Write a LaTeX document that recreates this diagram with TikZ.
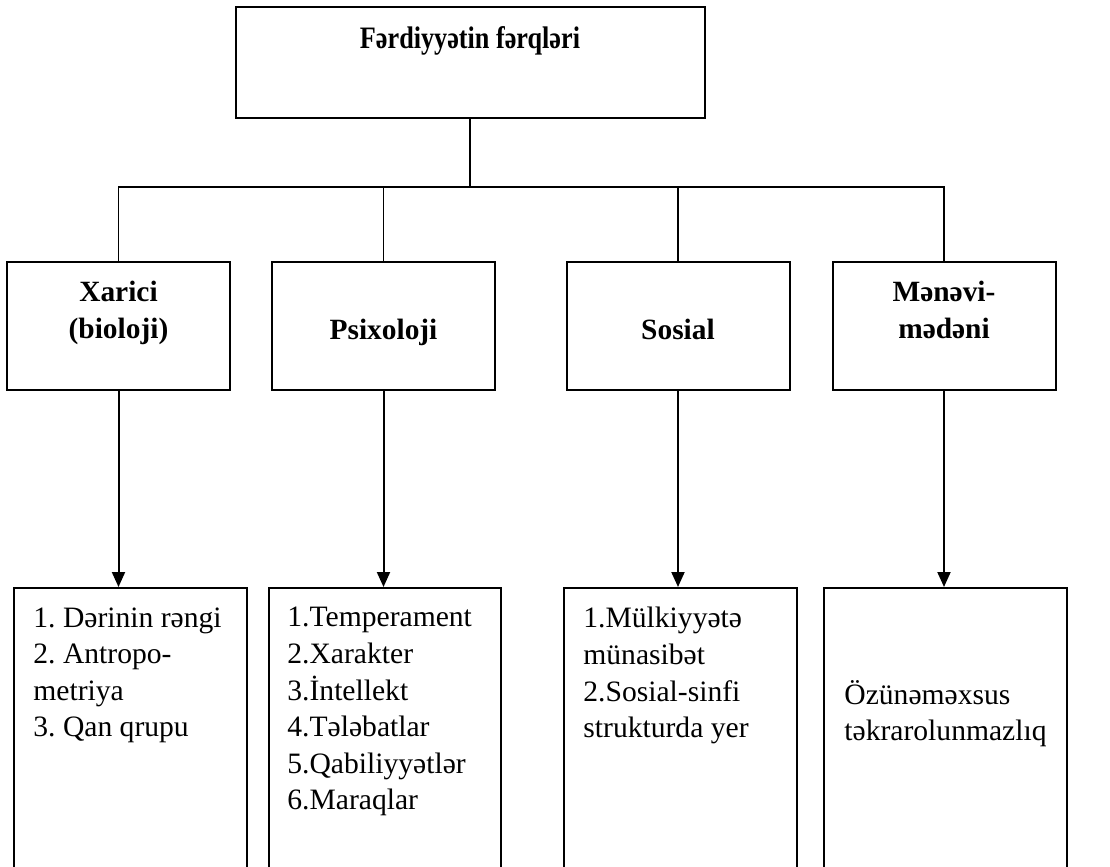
\documentclass[tikz,border=0pt]{standalone}
\usepackage{fontspec}
\setmainfont{Liberation Serif}
\newfontfamily\narrowserif[FakeStretch=0.84]{Liberation Serif}
\usetikzlibrary{arrows.meta,positioning}

\begin{document}
\frenchspacing
\begin{tikzpicture}[x=0.5pt,y=-0.5pt]

\tikzset{box/.style = {draw,line width=1pt,inner sep=0pt,minimum width=111.5pt,minimum height=64pt}}
\tikzset{list/.style = {draw,line width=1pt,inner sep=0pt,anchor=north,minimum height=160pt}}
\tikzset{head/.style = {anchor=north,inner sep=0pt,align=center,font=\bfseries\fontsize{14.7}{18.3}\selectfont}}
\tikzset{items/.style = {anchor=north west,inner sep=0pt,align=left,font=\fontsize{14.8}{18.3}\selectfont}}
\tikzset{tree/.style = {line width=0.8pt}}
\tikzset{edge1/.style = {-{Triangle[length=7.5pt,width=6.5pt]},line width=1pt}}

\useasboundingbox (0,0) rectangle (1110,867);
\clip (0,0) rectangle (1110,867);

% top box
\node[box,minimum width=234.5pt,minimum height=55.5pt] (top) at (470,62.5) {};
\node[head,font=\narrowserif\bfseries\fontsize{15.6}{18.3}\selectfont] (toptext) at ([yshift=-10pt]top.north) {Fərdiyyətin fərqləri};

% middle boxes
\node[box] (bio) at (118.5,326) {};
\node[box] (psi) at (383.5,326) {};
\node[box] (sos) at (678,326) {};
\node[box] (men) at (944,326) {};
\node[head] (biotext) at ([yshift=-10pt]bio.north) {Xarici\\(bioloji)};
\node[head] (psitext) at ([yshift=-29pt]psi.north) {Psixoloji};
\node[head] (sostext) at ([yshift=-29pt]sos.north) {Sosial};
\node[head] (mentext) at ([yshift=-10pt]men.north) {Mənəvi-\\mədəni};

% lower boxes
\node[list,minimum width=116.5pt] (bio-l) at (130.5,587) {};
\node[list,minimum width=116pt] (psi-l) at (385,587) {};
\node[list,minimum width=116.5pt] (sos-l) at (680.5,587) {};
\node[list,minimum width=121.5pt] (men-l) at (945.5,587) {};
\node[items] (bio-t) at ([xshift=10pt,yshift=-10pt]bio-l.north west) {1. Dərinin rəngi\\2. Antropo-\\metriya\\3. Qan qrupu};
\node[items] (psi-t) at ([xshift=9.5pt,yshift=-10pt]psi-l.north west) {1.Temperament\\2.Xarakter\\3.İntellekt\\4.Tələbatlar\\5.Qabiliyyətlər\\6.Maraqlar};
\node[items] (sos-t) at ([xshift=10pt,yshift=-10pt]sos-l.north west) {1.Mülkiyyətə\\münasibət\\2.Sosial-sinfi\\strukturda yer};
\node[items] (men-t) at ([xshift=10.5pt,yshift=-46.5pt]men-l.north west) {Özünəməxsus\\təkrarolunmazlıq};

%edges
\coordinate (bus) at (0,187);
\draw[tree] (top.south) -- (top.south |- bus);
\draw[tree] (bio.north) -- (bio.north |- bus) -- (men.north |- bus) -- (men.north);
\foreach \b in {psi,sos}
  \draw[tree] (\b.north) -- (\b.north |- bus);
\foreach \a in {bio,psi,sos,men}
  \draw[edge1] (\a.south) -- (\a.south |- \a-l.north);

\end{tikzpicture}
\end{document}
